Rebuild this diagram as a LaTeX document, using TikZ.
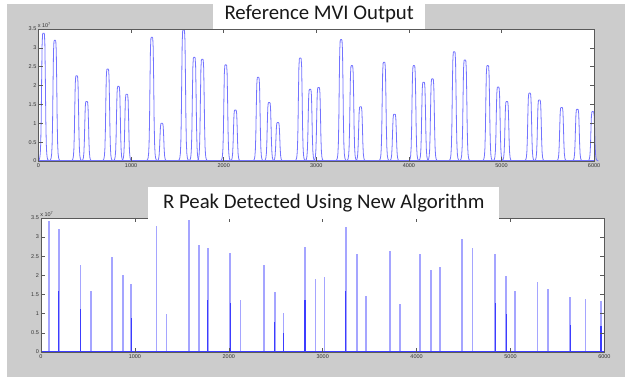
\documentclass[tikz,border=0pt]{standalone}
\usepackage{fontspec}
\setmainfont{Carlito}
\newfontfamily\axisfont{Liberation Sans}
\usepackage{tikz}

\begin{document}
\begin{tikzpicture}[x=1pt,y=1pt,
  mvi/.style={line width=0.8pt, color={rgb,255:red,115;green,115;blue,255}, samples=25},
  stem/.style={line width=1.7pt, color={rgb,255:red,165;green,165;blue,255}},
  stemdark/.style={line width=1.1pt, color={rgb,255:red,60;green,60;blue,255}},
  axisbox/.style={draw=black!65, line width=0.5pt},
  ticklab/.style={font=\axisfont\fontsize{5.5}{6}\selectfont, text=black!80, inner sep=1pt},
  titlebox/.style={fill=white, inner sep=0pt, text=black!90, font=\fontsize{20.8}{22}\selectfont}]
\useasboundingbox (0,0) rectangle (625,380);
\fill[white] (0,0) rectangle (625,380);
\fill[black!20] (7,3) rectangle (625,376);

% upper plot
\begin{scope}[shift={(38.5pt,219pt)}, x=92.6pt, y=37.7pt]
\fill[white] (0,0) rectangle (6,3.5);
\draw[mvi] (0,0.02) -- (6,0.02);
\draw[mvi] plot[domain=-0.06:0.06] ({0.054+\x},{3.39/(1+(\x/0.022)^6)});
\draw[mvi] plot[domain=-0.06:0.06] ({0.177+\x},{3.20/(1+(\x/0.022)^6)});
\draw[mvi] plot[domain=-0.06:0.06] ({0.412+\x},{2.26/(1+(\x/0.022)^6)});
\draw[mvi] plot[domain=-0.06:0.06] ({0.520+\x},{1.58/(1+(\x/0.022)^6)});
\draw[mvi] plot[domain=-0.06:0.06] ({0.747+\x},{2.44/(1+(\x/0.022)^6)});
\draw[mvi] plot[domain=-0.06:0.06] ({0.863+\x},{1.98/(1+(\x/0.022)^6)});
\draw[mvi] plot[domain=-0.06:0.06] ({0.953+\x},{1.77/(1+(\x/0.022)^6)});
\draw[mvi] plot[domain=-0.06:0.06] ({1.224+\x},{3.28/(1+(\x/0.022)^6)});
\draw[mvi] plot[domain=-0.06:0.06] ({1.332+\x},{1.00/(1+(\x/0.022)^6)});
\draw[mvi] plot[domain=-0.06:0.06] ({1.567+\x},{3.48/(1+(\x/0.022)^6)});
\draw[mvi] plot[domain=-0.06:0.06] ({1.682+\x},{2.75/(1+(\x/0.022)^6)});
\draw[mvi] plot[domain=-0.06:0.06] ({1.769+\x},{2.70/(1+(\x/0.022)^6)});
\draw[mvi] plot[domain=-0.06:0.06] ({2.022+\x},{2.55/(1+(\x/0.022)^6)});
\draw[mvi] plot[domain=-0.06:0.06] ({2.126+\x},{1.35/(1+(\x/0.022)^6)});
\draw[mvi] plot[domain=-0.06:0.06] ({2.372+\x},{2.22/(1+(\x/0.022)^6)});
\draw[mvi] plot[domain=-0.06:0.06] ({2.491+\x},{1.55/(1+(\x/0.022)^6)});
\draw[mvi] plot[domain=-0.06:0.06] ({2.585+\x},{1.02/(1+(\x/0.022)^6)});
\draw[mvi] plot[domain=-0.06:0.06] ({2.827+\x},{2.73/(1+(\x/0.022)^6)});
\draw[mvi] plot[domain=-0.06:0.06] ({2.933+\x},{1.90/(1+(\x/0.022)^6)});
\draw[mvi] plot[domain=-0.06:0.06] ({3.025+\x},{1.95/(1+(\x/0.022)^6)});
\draw[mvi] plot[domain=-0.06:0.06] ({3.268+\x},{3.22/(1+(\x/0.022)^6)});
\draw[mvi] plot[domain=-0.06:0.06] ({3.384+\x},{2.53/(1+(\x/0.022)^6)});
\draw[mvi] plot[domain=-0.06:0.06] ({3.478+\x},{1.44/(1+(\x/0.022)^6)});
\draw[mvi] plot[domain=-0.06:0.06] ({3.732+\x},{2.62/(1+(\x/0.022)^6)});
\draw[mvi] plot[domain=-0.06:0.06] ({3.844+\x},{1.24/(1+(\x/0.022)^6)});
\draw[mvi] plot[domain=-0.06:0.06] ({4.054+\x},{2.53/(1+(\x/0.022)^6)});
\draw[mvi] plot[domain=-0.06:0.06] ({4.159+\x},{2.09/(1+(\x/0.022)^6)});
\draw[mvi] plot[domain=-0.06:0.06] ({4.254+\x},{2.18/(1+(\x/0.022)^6)});
\draw[mvi] plot[domain=-0.06:0.06] ({4.489+\x},{2.90/(1+(\x/0.022)^6)});
\draw[mvi] plot[domain=-0.06:0.06] ({4.605+\x},{2.68/(1+(\x/0.022)^6)});
\draw[mvi] plot[domain=-0.06:0.06] ({4.851+\x},{2.53/(1+(\x/0.022)^6)});
\draw[mvi] plot[domain=-0.06:0.06] ({4.964+\x},{1.96/(1+(\x/0.022)^6)});
\draw[mvi] plot[domain=-0.06:0.06] ({5.058+\x},{1.58/(1+(\x/0.022)^6)});
\draw[mvi] plot[domain=-0.06:0.06] ({5.304+\x},{1.80/(1+(\x/0.022)^6)});
\draw[mvi] plot[domain=-0.06:0.06] ({5.409+\x},{1.62/(1+(\x/0.022)^6)});
\draw[mvi] plot[domain=-0.06:0.06] ({5.649+\x},{1.42/(1+(\x/0.022)^6)});
\draw[mvi] plot[domain=-0.06:0.06] ({5.819+\x},{1.37/(1+(\x/0.022)^6)});
\draw[mvi] plot[domain=-0.06:0.06] ({5.986+\x},{1.31/(1+(\x/0.022)^6)});
\draw[axisbox] (0,0) rectangle (6,3.5);
\draw[axisbox] (1,0) -- (1,0.1) (2,0) -- (2,0.1) (3,0) -- (3,0.1) (4,0) -- (4,0.1) (5,0) -- (5,0.1)
  (1,3.5) -- (1,3.4) (2,3.5) -- (2,3.4) (3,3.5) -- (3,3.4) (4,3.5) -- (4,3.4) (5,3.5) -- (5,3.4);
\draw[axisbox] (0,0.5) -- (0.045,0.5) (0,1) -- (0.045,1) (0,1.5) -- (0.045,1.5) (0,2) -- (0.045,2)
  (0,2.5) -- (0.045,2.5) (0,3) -- (0.045,3)
  (6,0.5) -- (5.955,0.5) (6,1) -- (5.955,1) (6,1.5) -- (5.955,1.5) (6,2) -- (5.955,2)
  (6,2.5) -- (5.955,2.5) (6,3) -- (5.955,3);
\node[ticklab, below] (ax0) at (0,-0.05) {0};
\node[ticklab, below] (ax1) at (1,-0.05) {1000};
\node[ticklab, below] (ax2) at (2,-0.05) {2000};
\node[ticklab, below] (ax3) at (3,-0.05) {3000};
\node[ticklab, below] (ax4) at (4,-0.05) {4000};
\node[ticklab, below] (ax5) at (5,-0.05) {5000};
\node[ticklab, below] (ax6) at (6,-0.05) {6000};
\node[ticklab, left] (ay0) at (-0.01,0) {0};
\node[ticklab, left] (ay1) at (-0.01,0.5) {0.5};
\node[ticklab, left] (ay2) at (-0.01,1) {1};
\node[ticklab, left] (ay3) at (-0.01,1.5) {1.5};
\node[ticklab, left] (ay4) at (-0.01,2) {2};
\node[ticklab, left] (ay5) at (-0.01,2.5) {2.5};
\node[ticklab, left] (ay6) at (-0.01,3) {3};
\node[ticklab, left] (ay7) at (-0.01,3.5) {3.5};
\node[ticklab, anchor=south west] (aexp) at (-0.02,3.5) {x 10\textsuperscript{7}};
\end{scope}
\node[titlebox, minimum width=212pt, minimum height=29.5pt, anchor=south west] (mvititle) at (213,350.5) {Reference MVI Output};

% lower plot
\begin{scope}[shift={(41pt,28pt)}, x=93.9pt, y=38.3pt]
\fill[white] (0,0) rectangle (6,3.5);
\draw[stem] (0.082,0) -- (0.082,3.41);
\draw[stem] (0.188,0) -- (0.188,3.22);
\draw[stem] (0.422,0) -- (0.422,2.27);
\draw[stem] (0.535,0) -- (0.535,1.60);
\draw[stem] (0.759,0) -- (0.759,2.47);
\draw[stem] (0.876,0) -- (0.876,2.00);
\draw[stem] (0.961,0) -- (0.961,1.78);
\draw[stem] (1.230,0) -- (1.230,3.30);
\draw[stem] (1.337,0) -- (1.337,1.00);
\draw[stem] (1.574,0) -- (1.574,3.45);
\draw[stem] (1.681,0) -- (1.681,2.79);
\draw[stem] (1.777,0) -- (1.777,2.72);
\draw[stem] (2.014,0) -- (2.014,2.58);
\draw[stem] (2.124,0) -- (2.124,1.36);
\draw[stem] (2.372,0) -- (2.372,2.27);
\draw[stem] (2.489,0) -- (2.489,1.57);
\draw[stem] (2.582,0) -- (2.582,1.02);
\draw[stem] (2.812,0) -- (2.812,2.75);
\draw[stem] (2.922,0) -- (2.922,1.91);
\draw[stem] (3.018,0) -- (3.018,1.97);
\draw[stem] (3.246,0) -- (3.246,3.26);
\draw[stem] (3.364,0) -- (3.364,2.57);
\draw[stem] (3.461,0) -- (3.461,1.46);
\draw[stem] (3.714,0) -- (3.714,2.64);
\draw[stem] (3.825,0) -- (3.825,1.25);
\draw[stem] (4.039,0) -- (4.039,2.57);
\draw[stem] (4.154,0) -- (4.154,2.13);
\draw[stem] (4.246,0) -- (4.246,2.22);
\draw[stem] (4.482,0) -- (4.482,2.95);
\draw[stem] (4.596,0) -- (4.596,2.71);
\draw[stem] (4.836,0) -- (4.836,2.56);
\draw[stem] (4.954,0) -- (4.954,1.98);
\draw[stem] (5.046,0) -- (5.046,1.60);
\draw[stem] (5.289,0) -- (5.289,1.82);
\draw[stem] (5.396,0) -- (5.396,1.64);
\draw[stem] (5.636,0) -- (5.636,1.43);
\draw[stem] (5.800,0) -- (5.800,1.39);
\draw[stem] (5.964,0) -- (5.964,1.33);
\draw[stemdark] (0.188,0) -- (0.188,1.60);
\draw[stemdark] (0.422,0) -- (0.422,1.13);
\draw[stemdark] (0.961,0) -- (0.961,0.90);
\draw[stemdark] (1.777,0) -- (1.777,1.37);
\draw[stemdark] (2.014,0) -- (2.014,1.29);
\draw[stemdark] (2.489,0) -- (2.489,0.78);
\draw[stemdark] (2.582,0) -- (2.582,0.49);
\draw[stemdark] (2.812,0) -- (2.812,1.37);
\draw[stemdark] (3.246,0) -- (3.246,1.60);
\draw[stemdark] (4.836,0) -- (4.836,1.28);
\draw[stemdark] (4.954,0) -- (4.954,1.00);
\draw[stemdark] (5.636,0) -- (5.636,0.71);
\draw[stemdark] (5.964,0) -- (5.964,0.67);
\draw[stemdark] (0,0.01) -- (6,0.01);
\draw[axisbox] (0,0) rectangle (6,3.5);
\draw[axisbox] (1,0) -- (1,0.1) (2,0) -- (2,0.1) (3,0) -- (3,0.1) (4,0) -- (4,0.1) (5,0) -- (5,0.1)
  (1,3.5) -- (1,3.4) (2,3.5) -- (2,3.4) (3,3.5) -- (3,3.4) (4,3.5) -- (4,3.4) (5,3.5) -- (5,3.4);
\draw[axisbox] (0,0.5) -- (0.045,0.5) (0,1) -- (0.045,1) (0,1.5) -- (0.045,1.5) (0,2) -- (0.045,2)
  (0,2.5) -- (0.045,2.5) (0,3) -- (0.045,3)
  (6,0.5) -- (5.955,0.5) (6,1) -- (5.955,1) (6,1.5) -- (5.955,1.5) (6,2) -- (5.955,2)
  (6,2.5) -- (5.955,2.5) (6,3) -- (5.955,3);
\node[ticklab, below] (bx0) at (0,-0.05) {0};
\node[ticklab, below] (bx1) at (1,-0.05) {1000};
\node[ticklab, below] (bx2) at (2,-0.05) {2000};
\node[ticklab, below] (bx3) at (3,-0.05) {3000};
\node[ticklab, below] (bx4) at (4,-0.05) {4000};
\node[ticklab, below] (bx5) at (5,-0.05) {5000};
\node[ticklab, below] (bx6) at (6,-0.05) {6000};
\node[ticklab, left] (by0) at (-0.01,0) {0};
\node[ticklab, left] (by1) at (-0.01,0.5) {0.5};
\node[ticklab, left] (by2) at (-0.01,1) {1};
\node[ticklab, left] (by3) at (-0.01,1.5) {1.5};
\node[ticklab, left] (by4) at (-0.01,2) {2};
\node[ticklab, left] (by5) at (-0.01,2.5) {2.5};
\node[ticklab, left] (by6) at (-0.01,3) {3};
\node[ticklab, left] (by7) at (-0.01,3.5) {3.5};
\node[ticklab, anchor=south west] (bexp) at (-0.02,3.5) {x 10\textsuperscript{7}};
\end{scope}
\node[titlebox, minimum width=351pt, minimum height=32.5pt, anchor=south west] (rtitle) at (148,160.5) {R Peak Detected Using New Algorithm};
\end{tikzpicture}
\end{document}
